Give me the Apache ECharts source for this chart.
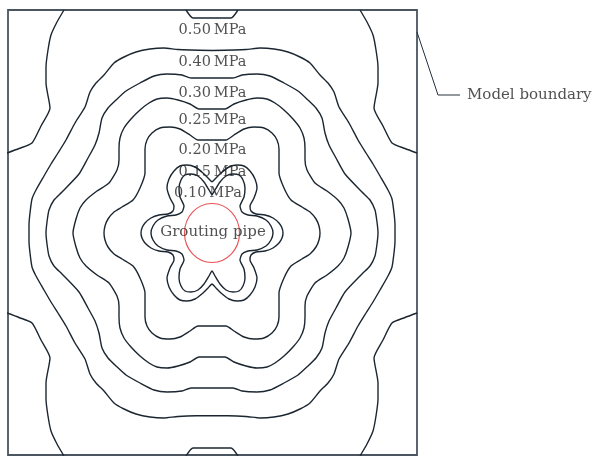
<!DOCTYPE html>
<html>
<head>
<meta charset="utf-8">
<script src="https://cdn.jsdelivr.net/npm/echarts@6/dist/echarts.min.js"></script>
<style>
  html, body { margin: 0; padding: 0; background: #ffffff; }
  #chart { width: 592px; height: 456px; }
</style>
</head>
<body>
<div id="chart"></div>
<script>
// Grouting pressure isolines around the pipe. Each isoline is given for one
// quadrant only (x to the right, y upwards, origin on the pipe axis, 1 unit = 1 px);
// the field is symmetric about both axes, so the other three quadrants are mirrored.
const levels = ['0.10', '0.15', '0.20', '0.25', '0.30', '0.40', '0.50'];

const iso010 = [[0, 38], [3, 43], [8, 51], [14, 57], [21, 59], [27, 58], [31, 53], [33, 45],
  [32, 36], [28, 27], [30, 21], [36, 18], [45, 17], [54, 13], [59, 7], [61, 0]];

const iso015 = [[0, 51], [4, 55], [9, 60], [17, 66], [25, 68], [32, 67], [38, 62], [43, 54],
  [45, 45], [42, 35], [38, 27], [39, 22], [44, 19], [53, 18], [61, 15], [67, 10], [70, 5], [71, 0]];

const iso020 = [[0, 93], [14, 93], [22, 98], [32, 104], [42, 106], [52, 105], [60, 100], [65, 93],
  [67, 84], [67, 72], [67, 60], [72, 45], [79, 33], [90, 26], [98, 21], [104, 14], [107, 7], [108, 0]];

const iso025 = [[0, 124], [13, 124], [22, 129], [34, 133], [45, 135], [55, 134], [63, 130], [72, 123],
  [81, 114], [88, 105], [92, 95], [93, 84], [93, 73], [95, 63], [103, 50], [115, 42], [126, 33],
  [132, 25], [136, 14], [139, 0]];

const iso030 = [[0, 155], [21, 155], [30, 158], [45, 159], [58, 157], [72, 150], [86, 142], [96, 133],
  [104, 125], [110, 115], [113, 100], [117, 88], [124, 75], [133, 59], [150, 41], [158, 33],
  [163, 23], [165, 11], [166, 0]];

const iso040 = [[0, 182.5], [34, 183.5], [48, 185], [62, 184], [76, 181], [88, 176], [98, 170],
  [108, 158], [116, 150], [122, 141], [127, 126], [137, 110], [146, 93], [154, 80], [161, 69],
  [168, 57], [176, 43], [180, 34], [182, 20], [183, 8], [183, 0]];

// The 0.50 MPa line leaves the model: a shallow notch at the top/bottom edges
// and one arc in each corner, both ending on the model boundary.
const iso050Notch = [[0, 215], [19, 215], [26, 223]];
const iso050Corner = [[148, 223], [155, 211], [161, 198], [164, 183], [166, 166],
  [166, 150], [162, 125], [171, 107], [180, 90], [193, 84.5], [205, 80]];

// ---- mirroring helpers ----
function closedLoop(q) {
  const pts = q.map(p => [p[0], p[1]]);
  const rev = q.slice().reverse();
  rev.slice(1).forEach(p => pts.push([p[0], -p[1]]));
  q.slice(1).forEach(p => pts.push([-p[0], -p[1]]));
  rev.slice(1).forEach(p => pts.push([-p[0], p[1]]));
  return pts;
}
function acrossY(q, sy) {
  const rev = q.slice().reverse();
  return rev.map(p => [-p[0], sy * p[1]]).concat(q.slice(1).map(p => [p[0], sy * p[1]]));
}
function flip(q, sx, sy) {
  return q.map(p => [sx * p[0], sy * p[1]]);
}

const lineStyle = { color: '#1b2631', width: 1.4 };
const series = [];
function addPath(data) {
  series.push({
    type: 'line', data: data, smooth: 0.2, symbol: 'none', clip: true,
    silent: true, lineStyle: lineStyle, z: 2
  });
}

[iso010, iso015, iso020, iso025, iso030, iso040].forEach(q => addPath(closedLoop(q)));
addPath(acrossY(iso050Notch, 1));
addPath(acrossY(iso050Notch, -1));
[[1, 1], [1, -1], [-1, -1], [-1, 1]].forEach(s => addPath(flip(iso050Corner, s[0], s[1])));

// level captions, each set just inside its isoline
const captionAt = {
  '0.50': [0.5, 202.5], '0.40': [0.5, 171], '0.30': [0.5, 140], '0.25': [0.5, 112.3],
  '0.20': [0.5, 82.3], '0.15': [0.5, 60.3], '0.10': [-4, 39.5]
};
const serif = 'DejaVu Serif';
const textColor = '#262626';
series.push({
  type: 'scatter', symbolSize: 0, silent: true, clip: false, z: 5,
  data: levels.map(l => [captionAt[l][0], captionAt[l][1], l]),
  label: {
    show: true, position: 'inside', align: 'center', verticalAlign: 'middle',
    fontFamily: serif, fontSize: 14.5, color: textColor,
    formatter: p => p.data[2] + '\u2009MPa'
  }
});

// grouting pipe
series.push({
  type: 'scatter', silent: true, clip: false, z: 4,
  data: [[0, 0]], symbol: 'circle', symbolSize: [55, 59],
  itemStyle: { color: 'rgba(0,0,0,0)', borderColor: '#e3262b', borderWidth: 1.2 }
});
series.push({
  type: 'scatter', symbolSize: 0, silent: true, clip: false, z: 6,
  data: [[1, 1]],
  label: {
    show: true, position: 'inside', align: 'center', verticalAlign: 'middle',
    fontFamily: serif, fontSize: 15, color: textColor, formatter: 'Grouting pipe'
  }
});

// model boundary call-out text (leader drawn below once the grid is laid out)
const leader = [[205, 201], [226, 138], [248, 138]];
series.push({
  type: 'scatter', symbolSize: 0, silent: true, clip: false,
  data: [leader[2]],
  label: {
    show: true, position: 'right', distance: 7, verticalAlign: 'middle',
    fontFamily: serif, fontSize: 15, color: textColor, formatter: 'Model boundary'
  }
});

const chart = echarts.init(document.getElementById('chart'));
chart.setOption({
  animation: false,
  backgroundColor: '#ffffff',
  grid: {
    left: 8, top: 10, width: 409, height: 445, show: true,
    borderColor: '#4a5560', borderWidth: 1.8, backgroundColor: 'rgba(0,0,0,0)'
  },
  xAxis: { type: 'value', min: -204, max: 205, show: false },
  yAxis: { type: 'value', min: -222, max: 223, show: false },
  series: series
});

const leaderPx = leader.map(p => chart.convertToPixel({ gridIndex: 0 }, p));
chart.setOption({
  graphic: [{
    type: 'polyline', silent: true, z: 10,
    shape: { points: leaderPx },
    style: { stroke: '#26323d', lineWidth: 1, fill: null }
  }]
});
</script>
</body>
</html>
